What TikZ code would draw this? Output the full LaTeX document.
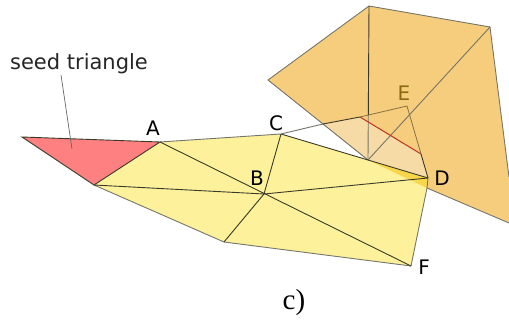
\documentclass[tikz,border=0pt]{standalone}
\usepackage{fontspec}
\setmainfont{Liberation Serif}
\newfontfamily\lblfont{DejaVu Sans}
\definecolor{yel}{HTML}{FDF29B}
\definecolor{org}{HTML}{F6CD7C}
\definecolor{lightorg}{HTML}{F7DBA6}
\definecolor{gold}{HTML}{F7D64A}
\definecolor{seedred}{HTML}{FF8080}
\definecolor{edge}{HTML}{3A3A2A}
\definecolor{elabel}{HTML}{8A6A10}
\definecolor{front}{HTML}{C03020}
\tikzset{x=1pt,y=-1pt,
 wire/.style={draw=edge,line width=0.9pt},
 soft/.style={draw=edge!70,line width=0.9pt},
 thin wire/.style={draw=black!45!org,line width=0.8pt},
 lbl/.style={font=\lblfont\fontsize{20}{20}\selectfont,text=black,inner sep=0pt}}
\begin{document}
\begin{tikzpicture}
\useasboundingbox (0,0) rectangle (509,320);
\coordinate (S) at (22,137);
\coordinate (A) at (160,142);
\coordinate (G) at (94,185);
\coordinate (C) at (281,134);
\coordinate (B) at (264,194);
\coordinate (H) at (224,242);
\coordinate (F) at (411,266);
\coordinate (D) at (428,178);
\coordinate (P) at (368,160);
\coordinate (Q) at (323,124);
\coordinate (R) at (360,117);
\coordinate (T) at (421,154);
\coordinate (E) at (407,106);
\coordinate (L) at (268,80);
\coordinate (U) at (369,6);
\coordinate (V) at (490,27);
\coordinate (W) at (509,177);
\coordinate (X) at (509,223);
\coordinate (Y) at (427,188);
\coordinate (M) at (368.3,115);
% orange fan
\fill[org] (L) -- (U) -- (V) -- (W) -- (X) -- (Y) -- (P) -- cycle;
\draw[soft] (X) -- (Y);
\draw[soft] (W) -- (V) -- (U) -- (L) -- (Q);
% yellow strip
\fill[yel] (G) -- (A) -- (C) -- (P) -- (D) -- (Y) -- (F) -- (H) -- cycle;
% gold overlap
\fill[gold] (P) -- (D) -- (Y) -- cycle;
% light region
\fill[lightorg] (Q) -- (R) -- (T) -- (D) -- (P) -- cycle;
\draw[wire] (U) -- (M);
\draw[soft] (M) -- (P);
\draw[soft] (P) -- (V);
\draw[soft] (Q) -- (P);
% seed
\filldraw[fill=seedred,draw=edge,line width=0.9pt] (S) -- (A) -- (G) -- cycle;
% strip edges
\draw[soft] (G) -- (H) -- (F) -- (Y) -- (D);
\draw[wire] (D) -- (P) -- (C);
\draw[soft] (A) -- (C) -- (Q);
\draw[wire] (Q) -- (R);
\draw[wire] (A) -- (F);
\draw[wire] (G) -- (B) -- (D);
\draw[wire] (C) -- (B) -- (H);
% front
\draw[front,line width=1pt] (R) -- (T);
\draw[wire] (T) -- (D);
\draw[thin wire] (R) -- (E) -- (T);
% labels
\node[lbl] (lA) at (153,128) {A};
\node[lbl] (lB) at (257,178) {B};
\node[lbl] (lC) at (276,123) {C};
\node[lbl] (lD) at (442,178) {D};
\node[lbl,text=elabel] (lE) at (404,93) {E};
\node[lbl] (lF) at (424,267) {F};
\node[lbl,font=\lblfont\fontsize{21}{21}\selectfont,text=black!85] (seed) at (79,64) {seed triangle};
\coordinate (st) at (61,75);
\coordinate (sp) at (72,149);
\draw[draw=black!60,line width=0.7pt] (st) -- (sp);
\node[inner sep=0pt,font=\fontsize{29}{29}\selectfont] (cap) at (294,303) {c)};
\end{tikzpicture}
\end{document}
